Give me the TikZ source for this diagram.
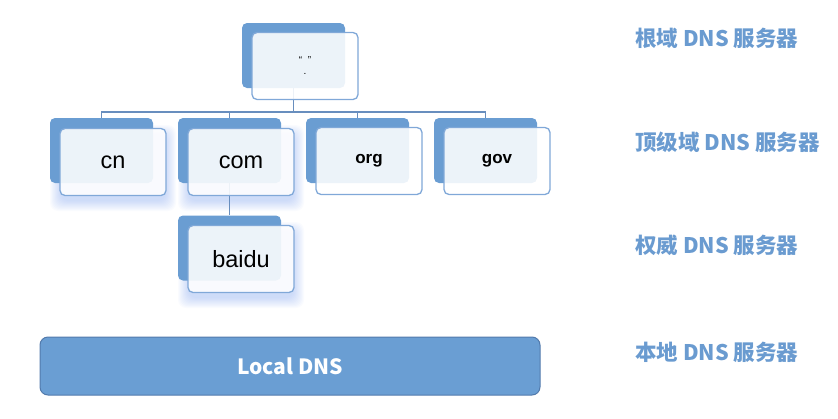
\documentclass[tikz,border=0pt]{standalone}
\usepackage{fontspec}
\setmainfont{Liberation Sans}
\newfontfamily\cjk{Noto Sans CJK SC}
\definecolor{backblue}{RGB}{106,157,210}
\definecolor{glowblue}{RGB}{70,120,230}
\definecolor{frontline}{RGB}{128,168,216}
\definecolor{lineblue}{RGB}{104,142,190}
\definecolor{labelblue}{RGB}{106,155,208}
\definecolor{localfill}{RGB}{106,158,211}
\definecolor{localline}{RGB}{82,122,172}
\tikzset{
  backbox/.style={rectangle, rounded corners=5pt, fill=backblue, minimum width=103pt, minimum height=65pt, inner sep=0pt},
  frontbox/.style={rectangle, rounded corners=5pt, draw=frontline, line width=1.3pt, fill=white, fill opacity=0.88, text opacity=1, minimum width=106pt, minimum height=67pt, inner sep=0pt},
  treeline/.style={draw=lineblue, line width=1.2pt},
  levellabel/.style={anchor=west, inner sep=0pt, text=labelblue, font=\cjk\bfseries\fontsize{21.5pt}{24pt}\selectfont},
  bigname/.style={font=\fontsize{23.5pt}{26pt}\selectfont},
  smallname/.style={font=\bfseries\fontsize{17pt}{20pt}\selectfont},
}
\begin{document}
\begin{tikzpicture}[x=1pt,y=-1pt]
				\useasboundingbox (0,0) rectangle (838,418);
				%
				\foreach \n/\x/\y in {cn/113/168, com/241/168, baidu/241/265}
				\foreach \k in {2,4,...,22}
				\node[rectangle, rounded corners=8pt, fill=glowblue, opacity=0.028, minimum width={(104+\k)*1pt}, minimum height={(64+\k)*1pt}] at (\x,\y) {};
				%
				\foreach \n/\x/\y in {root/293.5/55.5, cn/101.5/150.5, com/229.5/150.5, org/357.5/150.5, gov/485.5/150.5, baidu/229.5/248}
				\node[backbox] (\n-b) at (\x,\y) {};
				%
				\coordinate (bus) at (293.5,112);
				\draw[treeline] (root-b.south) -- (bus);
				\foreach \n in {cn,com,org,gov}
				\draw[treeline] (bus) -| (\n-b.north);
				\draw[treeline] (com-b.south) -- (baidu-b.north);
				%
				\node[frontbox, align=center, font=\fontsize{10pt}{11pt}\selectfont] (root) at ([shift={(11.5,10.5)}]root-b.center) {“\ \ ”\\.};
				\node[frontbox, bigname] (cn) at ([shift={(11.5,11.5)}]cn-b.center) {cn};
				\node[frontbox, bigname] (com) at ([shift={(11.5,11.5)}]com-b.center) {com};
				\node[frontbox, smallname] (org) at ([shift={(11.5,10.5)}]org-b.center) {org};
				\node[frontbox, smallname] (gov) at ([shift={(11.5,10.5)}]gov-b.center) {gov};
				\node[frontbox, bigname] (baidu) at ([shift={(11.5,11)}]baidu-b.center) {baidu};
				%
				\node[rectangle, rounded corners=8pt, fill=localfill, draw=localline, line width=1pt, minimum width=500pt, minimum height=58pt, text=white, font=\cjk\bfseries\fontsize{21pt}{24pt}\selectfont] (local) at (290,366) {Local DNS};
				%
				\node[levellabel] (l-root) at (635,38) {根域 DNS 服务器};
				\node[levellabel] (l-top) at (635,142) {顶级域 DNS 服务器};
				\node[levellabel] (l-auth) at (635,245) {权威 DNS 服务器};
				\node[levellabel] (l-local) at (635,352) {本地 DNS 服务器};
			\end{tikzpicture}
\end{document}
